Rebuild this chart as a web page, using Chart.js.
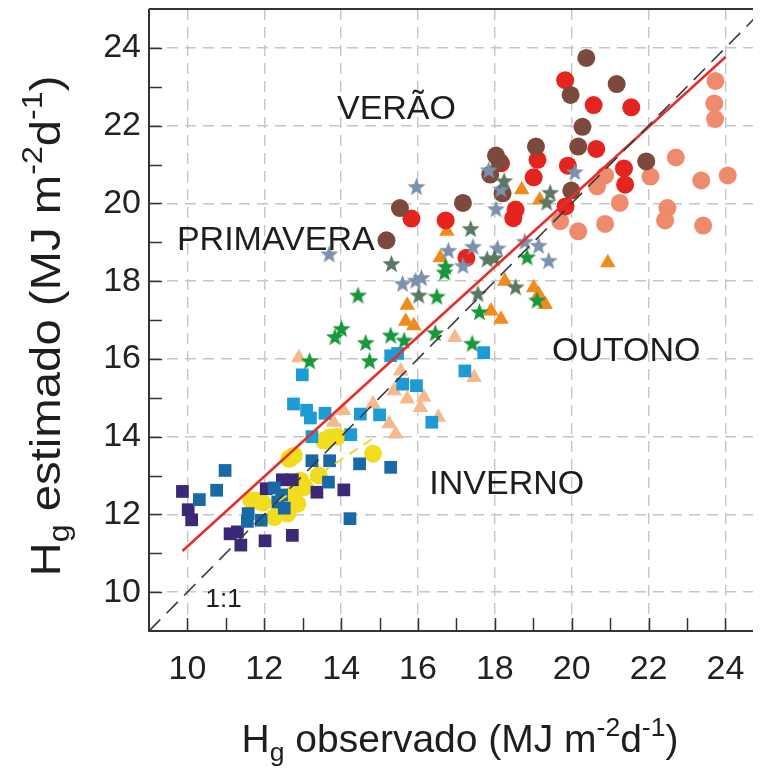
<!DOCTYPE html>
<html><head><meta charset="utf-8">
<script src="https://cdn.jsdelivr.net/npm/chart.js@4.4.1/dist/chart.umd.min.js"></script>
<style>html,body{margin:0;padding:0;background:#fff;overflow:hidden}</style>
</head><body>
<canvas id="c" width="762" height="769"></canvas>
<script>
// ---- data ----
const xTicks=[10,12,14,16,18,20,22,24];
const yTicks=[10,12,14,16,18,20,22,24];
const redCircles=[[19.83,23.17],[20.57,22.53],[21.55,22.47],[20.64,21.4],[19.9,20.97],[21.36,20.9],[21.39,20.48],[19.84,19.92],[19.11,21.12],[19.01,20.67],[18.16,21.03],[18.54,19.84],[18.48,19.62],[17.26,18.6],[15.83,19.61],[16.72,19.56]];
const brownCircles=[[20.38,23.74],[21.17,23.07],[19.97,22.79],[20.28,21.97],[20.17,21.46],[19.07,21.46],[21.94,21.08],[18.03,21.23],[18.12,21.08],[17.88,20.74],[18.2,20.26],[19.99,20.33],[17.17,20.01],[15.53,19.88],[15.18,19.05]];
const salmonCircles=[[23.74,23.15],[23.71,22.57],[23.73,22.17],[22.71,21.18],[24.06,20.72],[23.37,20.59],[22.05,20.69],[20.87,20.72],[20.66,20.44],[21.25,20.01],[22.49,19.88],[22.43,19.56],[23.42,19.43],[20.87,19.47],[20.17,19.28],[19.7,19.54]];
const greenStars=[[14.44,17.62],[16.49,17.59],[16.69,18.21],[16.72,18.36],[14.01,16.76],[13.84,16.55],[14.64,16.4],[15.29,16.59],[15.64,16.46],[16.45,16.65],[17.41,16.38],[17.6,17.19],[14.74,15.93],[13.18,15.93],[18.84,18.6],[19.1,17.49]];
const darkStars=[[15.31,18.43],[16.02,17.62],[17.37,19.33],[17.56,17.66],[17.8,18.55],[17.99,18.58],[18.24,20.56],[19.44,20.26],[19.35,20.01],[18.54,17.83]];
const grayStars=[[15.96,20.41],[13.69,18.68],[15.6,17.92],[15.94,18.0],[16.09,18.07],[16.79,18.77],[17.43,18.87],[17.17,18.38],[18.03,19.84],[17.84,20.84],[18.16,20.35],[18.07,18.83],[20.08,20.79],[19.4,18.51],[19.14,18.9],[18.78,19.0]];
const orangeTri=[[16.75,19.28],[16.58,18.6],[15.72,17.38],[15.68,16.97],[15.89,16.85],[17.9,17.23],[18.16,17.02],[18.26,18.0],[18.7,20.35],[19.17,20.09],[20.94,18.47],[19.01,17.83],[19.14,17.66],[19.31,17.4]];
const peachTri=[[12.9,16.03],[15.55,15.69],[15.38,15.18],[15.72,14.97],[16.15,15.01],[16.06,14.75],[14.83,14.84],[15.25,14.33],[15.42,14.07],[16.53,14.5],[16.96,16.55],[13.8,14.37],[14.06,14.67],[17.46,15.52]];
const lightBlueSq=[[12.99,15.59],[12.76,14.84],[13.1,14.68],[13.2,14.48],[13.58,14.6],[14.5,14.58],[15.0,14.56],[13.24,14.0],[14.25,14.05],[15.29,16.08],[15.47,16.14],[15.6,15.35],[15.96,15.31],[16.36,14.37],[17.71,16.16],[17.22,15.69]];
const medBlueSq=[[10.98,13.13],[10.76,12.62],[10.31,12.38],[12.26,12.68],[12.35,12.32],[12.52,12.16],[11.58,12.02],[11.56,11.82],[11.92,11.85],[13.24,13.38],[13.7,13.38],[13.67,12.83],[14.48,13.3],[15.29,13.21],[14.23,11.89],[12.45,12.5]];
const purpleSq=[[9.87,12.59],[10.02,12.12],[10.11,11.86],[11.11,11.5],[11.3,11.55],[11.39,11.21],[12.02,11.32],[12.73,11.46],[12.05,12.66],[12.47,12.89],[12.73,12.89],[13.37,12.57],[14.07,12.63]];
const yellowCirc=[[13.71,13.98],[13.55,13.9],[12.65,13.43],[12.77,13.51],[11.79,12.36],[11.66,12.36],[12.94,12.87],[13.05,12.7],[12.77,12.53],[13.42,13.0],[12.52,12.19],[12.26,11.93],[12.6,12.02],[14.83,13.56],[13.9,14.0],[12.86,12.27],[11.95,12.3]];
const regLine=[[9.87,11.06],[24.01,23.77]];
const oneToOne=[[9,9],[25,25]];
const yellowLine=[[12.0,12.1],[14.9,14.0]];
const labels=[['VERÃO',15.44,22.42,34],['PRIMAVERA',12.30,19.05,34],['OUTONO',21.42,16.18,34],['INVERNO',18.31,12.77,34],['1:1',10.94,9.79,26]];

const pts=a=>a.map(p=>({x:p[0],y:p[1]}));
function starImg(color,r){
  const c=document.createElement('canvas');const s=Math.ceil(r*2+2);c.width=s;c.height=s;
  const g=c.getContext('2d');g.fillStyle=color;g.beginPath();
  for(let i=0;i<10;i++){const rr=i%2?r*0.42:r;const a=-Math.PI/2+i*Math.PI/5;g.lineTo(s/2+rr*Math.cos(a),s/2+rr*Math.sin(a));}
  g.closePath();g.fill();return c;
}
const FONT='"Liberation Sans", Arial, sans-serif';
function sc(label,data,color,style,r,order){
  return {type:'scatter',label,data:pts(data),backgroundColor:color,borderColor:color,borderWidth:0,pointStyle:style,pointRadius:r,pointHoverRadius:r,order};
}
function ln(label,data,color,w,dash,order){
  return {type:'line',label,data:pts(data),borderColor:color,borderWidth:w,borderDash:dash,pointRadius:0,fill:false,order};
}
const datasets=[
  ln('1:1',oneToOne,'#3a3a3a',1.6,[16,9],0),
  ln('reg',regLine,'#e4302c',2.6,[],0),
  ln('regInv',yellowLine,'#e8d83a',2,[10,7],0),
  sc('darkStars',darkStars,null,starImg('#5a7862',9.5),9,1),
  sc('grayStars',grayStars,null,starImg('#7a92ab',9.5),9,2),
  sc('greenStars',greenStars,null,starImg('#17983a',9.5),9,3),
  sc('brown',brownCircles,'#7b4a3c','circle',9,4),
  sc('red',redCircles,'#e5231f','circle',9,5),
  sc('salmon',salmonCircles,'#f08a6c','circle',9,6),
  sc('orange',orangeTri,'#f08b1d','triangle',9,7),
  sc('medBlue',medBlueSq,'#1a69a7','rect',9,8),
  sc('purple',purpleSq,'#3b2877','rect',9,9),
  sc('lightBlue',lightBlueSq,'#1d9bd7','rect',9,10),
  sc('peach',peachTri,'#f6b98c','triangle',9,11),
  sc('yellow',yellowCirc,'#f2dc1e','circle',9,12),
];

function richText(ctx,parts,F){
  let w=0;for(const p of parts){ctx.font=(F*p[1])+'px '+FONT;w+=ctx.measureText(p[0]).width;}return w;
}
function drawRich(ctx,parts,F,x,y){
  for(const p of parts){ctx.font=(F*p[1])+'px '+FONT;ctx.fillText(p[0],x,y+p[2]*F);x+=ctx.measureText(p[0]).width;}
}
const xTitle=[['H',1,0],['g',0.68,0.22],[' observado (MJ m',1,0],['-2',0.68,-0.42],['d',1,0],['-1',0.68,-0.42],[')',1,0]];
const yTitle=[['H',1,0],['g',0.68,0.22],[' estimado (MJ m',1,0],['-2',0.68,-0.42],['d',1,0],['-1',0.68,-0.42],[')',1,0]];

const deco={
  id:'deco',
  afterDraw(chart){
    const ctx=chart.ctx,xs=chart.scales.x,ys=chart.scales.y,a=chart.chartArea;
    ctx.save();
    ctx.setLineDash([]);
    ctx.strokeStyle='#333';ctx.lineWidth=2;ctx.beginPath();
    ctx.moveTo(a.left,a.top);ctx.lineTo(a.left,a.bottom);ctx.lineTo(a.right,a.bottom);
    ctx.moveTo(a.left,a.top);ctx.lineTo(a.right,a.top);
    ctx.stroke();
    ctx.lineWidth=1.5;ctx.beginPath();
    for(let v=10;v<=24;v++){const px=Math.round(xs.getPixelForValue(v))+0.5;ctx.moveTo(px,a.bottom);ctx.lineTo(px,a.bottom-13);}
    for(let v=10;v<=24;v++){const py=Math.round(ys.getPixelForValue(v))+0.5;ctx.moveTo(a.left,py);ctx.lineTo(a.left+13,py);}
    ctx.stroke();
    ctx.fillStyle='#1e1e1e';ctx.textAlign='center';ctx.textBaseline='middle';
    for(const l of labels){ctx.font=l[3]+'px '+FONT;ctx.fillText(l[0],xs.getPixelForValue(l[1]),ys.getPixelForValue(l[2]));}
    ctx.textAlign='left';ctx.textBaseline='alphabetic';
    let F=39;
    let w=richText(ctx,xTitle,F);
    drawRich(ctx,xTitle,F,460-w/2,752);
    F=43;
    ctx.translate(60,326);ctx.rotate(-Math.PI/2);ctx.scale(1.1,1);
    w=richText(ctx,yTitle,F);
    drawRich(ctx,yTitle,F,-w/2,0);
    ctx.restore();
  }
};

new Chart(document.getElementById('c'),{
  data:{datasets},
  options:{
    responsive:false,animation:false,
    layout:{padding:{top:7,right:0,left:0,bottom:0}},
    plugins:{legend:{display:false},tooltip:{enabled:false}},
    scales:{
      x:{type:'linear',position:'bottom',min:9,max:24.718,
        afterBuildTicks(s){s.ticks=xTicks.map(v=>({value:v}));},
        afterFit(s){s.height=138;s.paddingLeft=0;s.paddingRight=0;},
        grid:{color:'#c6c6c6',lineWidth:1.4,drawTicks:false},
        border:{display:false,dash:[11,7]},
        ticks:{font:{size:34,family:FONT},color:'#222',padding:18,maxRotation:0,autoSkip:false}},
      y:{type:'linear',min:9,max:25,
        afterBuildTicks(s){s.ticks=yTicks.map(v=>({value:v}));},
        afterFit(s){s.width=149;s.paddingTop=0;s.paddingBottom=0;},
        grid:{color:'#c6c6c6',lineWidth:1.4,drawTicks:false},
        border:{display:false,dash:[11,7]},
        ticks:{font:{size:34,family:FONT},color:'#222',padding:8,autoSkip:false}}
    }
  },
  plugins:[deco]
});
</script>
</body></html>
